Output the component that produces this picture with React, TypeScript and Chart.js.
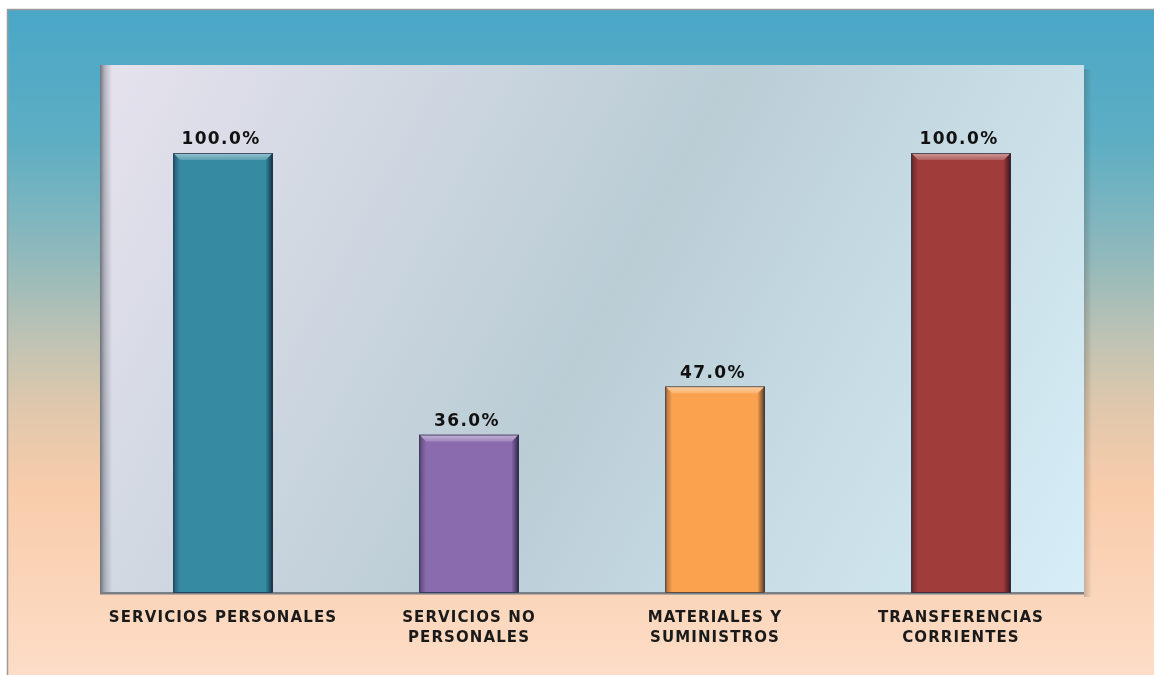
import React, { useEffect, useRef } from "react";
import { Chart, registerables } from "chart.js";

Chart.register(...registerables);

const categories: (string | string[])[] = [
  "SERVICIOS PERSONALES",
  ["SERVICIOS NO", "PERSONALES"],
  ["MATERIALES Y", "SUMINISTROS"],
  ["TRANSFERENCIAS", "CORRIENTES"],
];
const values = [100, 36, 47, 100];
const barColors = ["#368AA2", "#8A6BAD", "#FBA24F", "#A03C3A"];
const yMin = 0;
const yMax = 120;

const W = 1154;
const H = 675;

const backgroundPlugin = {
  id: "bgPlugin",
  beforeDraw(chart: any) {
    const ctx = chart.ctx as CanvasRenderingContext2D;
    const ca = chart.chartArea;
    ctx.save();
    ctx.fillStyle = "#ffffff";
    ctx.fillRect(0, 0, W, H);
    // outer frame gradient
    const g = ctx.createLinearGradient(0, 9, 0, H);
    g.addColorStop(0, "#4AA7C7");
    g.addColorStop(0.2, "#5DAEC3");
    g.addColorStop(0.37, "#90B9BC");
    g.addColorStop(0.5, "#C0C3B3");
    g.addColorStop(0.6, "#E0C8AC");
    g.addColorStop(0.72, "#F8CCAA");
    g.addColorStop(1, "#FDDDC7");
    ctx.fillStyle = g;
    ctx.fillRect(7, 9, W - 7, H - 9);
    ctx.strokeStyle = "#9a9a9a";
    ctx.lineWidth = 1.5;
    ctx.beginPath();
    ctx.moveTo(7.5, H);
    ctx.lineTo(7.5, 9.5);
    ctx.lineTo(W, 9.5);
    ctx.stroke();

    // right drop shadow of plot area
    const sg = ctx.createLinearGradient(ca.right, 0, ca.right + 8, 0);
    sg.addColorStop(0, "rgba(60,60,60,0.25)");
    sg.addColorStop(1, "rgba(60,60,60,0)");
    ctx.fillStyle = sg;
    ctx.fillRect(ca.right, ca.top + 4, 8, ca.bottom - ca.top);

    // plot area gradient
    const pg = ctx.createLinearGradient(ca.left, ca.top, ca.right, ca.bottom);
    pg.addColorStop(0, "#E6E2EE");
    pg.addColorStop(0.5, "#BACDD5");
    pg.addColorStop(1, "#D7EEF8");
    ctx.fillStyle = pg;
    ctx.fillRect(ca.left, ca.top, ca.right - ca.left, ca.bottom - ca.top);

    // left inner shadow
    const lg = ctx.createLinearGradient(ca.left, 0, ca.left + 12, 0);
    lg.addColorStop(0, "rgba(70,75,85,0.75)");
    lg.addColorStop(0.4, "rgba(90,95,105,0.35)");
    lg.addColorStop(1, "rgba(90,95,105,0)");
    ctx.fillStyle = lg;
    ctx.fillRect(ca.left, ca.top, 12, ca.bottom - ca.top);

    // baseline
    ctx.fillStyle = "#7a7f85";
    ctx.fillRect(ca.left, ca.bottom - 1, ca.right - ca.left, 2.5);
    ctx.restore();

    ctx.letterSpacing = "1.1px";
  },
};

const bevelPlugin = {
  id: "bevelPlugin",
  afterDatasetsDraw(chart: any) {
    const ctx = chart.ctx as CanvasRenderingContext2D;
    const meta = chart.getDatasetMeta(0);
    meta.data.forEach((bar: any, i: number) => {
      const { x, y, base, width } = bar.getProps(["x", "y", "base", "width"], true);
      const l = x - width / 2;
      const r = x + width / 2;
      const t = y;
      const b = base - 1;
      const bv = 7;
      ctx.save();
      // top bevel highlight
      ctx.beginPath();
      ctx.moveTo(l, t);
      ctx.lineTo(r, t);
      ctx.lineTo(r - bv, t + bv);
      ctx.lineTo(l + bv, t + bv);
      ctx.closePath();
      const tg = ctx.createLinearGradient(0, t, 0, t + bv);
      tg.addColorStop(0, "rgba(255,255,255,0.5)");
      tg.addColorStop(1, "rgba(255,255,255,0.18)");
      ctx.fillStyle = tg;
      ctx.fill();
      // right dark side
      ctx.beginPath();
      ctx.moveTo(r, t);
      ctx.lineTo(r, b);
      ctx.lineTo(r - bv, b);
      ctx.lineTo(r - bv, t + bv);
      ctx.closePath();
      const rg = ctx.createLinearGradient(r - bv, 0, r, 0);
      rg.addColorStop(0, "rgba(0,0,20,0.05)");
      rg.addColorStop(1, "rgba(0,0,20,0.65)");
      ctx.fillStyle = rg;
      ctx.fill();
      // left side
      ctx.beginPath();
      ctx.moveTo(l, t);
      ctx.lineTo(l + bv, t + bv);
      ctx.lineTo(l + bv, b);
      ctx.lineTo(l, b);
      ctx.closePath();
      const lg = ctx.createLinearGradient(l, 0, l + bv, 0);
      lg.addColorStop(0, "rgba(0,0,20,0.35)");
      lg.addColorStop(1, "rgba(0,0,20,0)");
      ctx.fillStyle = lg;
      ctx.fill();
      // outline
      ctx.strokeStyle = "rgba(30,40,60,0.7)";
      ctx.lineWidth = 1;
      ctx.strokeRect(l + 0.5, t + 0.5, width - 1, b - t);

      // value label
      ctx.letterSpacing = "1.4px";
      ctx.font = "bold 17px 'DejaVu Sans'";
      ctx.fillStyle = "#111111";
      ctx.textAlign = "center";
      ctx.textBaseline = "middle";
      ctx.fillText(values[i].toFixed(1) + "%", x - 2, t - 13);
      ctx.restore();
    });
  },
};

export default function App() {
  const ref = useRef<HTMLCanvasElement | null>(null);
  useEffect(() => {
    document.body.style.margin = "0";
    const canvas = ref.current;
    if (!canvas) return;
    const chart = new Chart(canvas, {
      type: "bar",
      data: {
        labels: categories as any,
        datasets: [
          {
            data: values,
            backgroundColor: barColors,
            borderWidth: 0,
            barPercentage: 0.405,
            categoryPercentage: 1,
          },
        ],
      },
      options: {
        animation: false,
        responsive: false,
        devicePixelRatio: 1,
        layout: { padding: { left: 100, right: 70, top: 65, bottom: 0 } },
        plugins: {
          legend: { display: false },
          tooltip: { enabled: false },
          title: { display: false },
        },
        scales: {
          x: {
            grid: { display: false },
            border: { display: false },
            ticks: {
              color: "#1a1a1a",
              font: { family: "'DejaVu Sans'", weight: "bold", size: 15, lineHeight: 1.33 },
              padding: 7,
              maxRotation: 0,
              autoSkip: false,
            },
            afterFit(scale: any) {
              scale.height = 82;
            },
          },
          y: {
            display: false,
            min: yMin,
            max: yMax,
          },
        },
      },
      plugins: [backgroundPlugin, bevelPlugin],
    });
    return () => chart.destroy();
  }, []);
  return (
    <div style={{ width: W, height: H }}>
      <canvas ref={ref} width={W} height={H} style={{ display: "block", width: W, height: H }} />
    </div>
  );
}
